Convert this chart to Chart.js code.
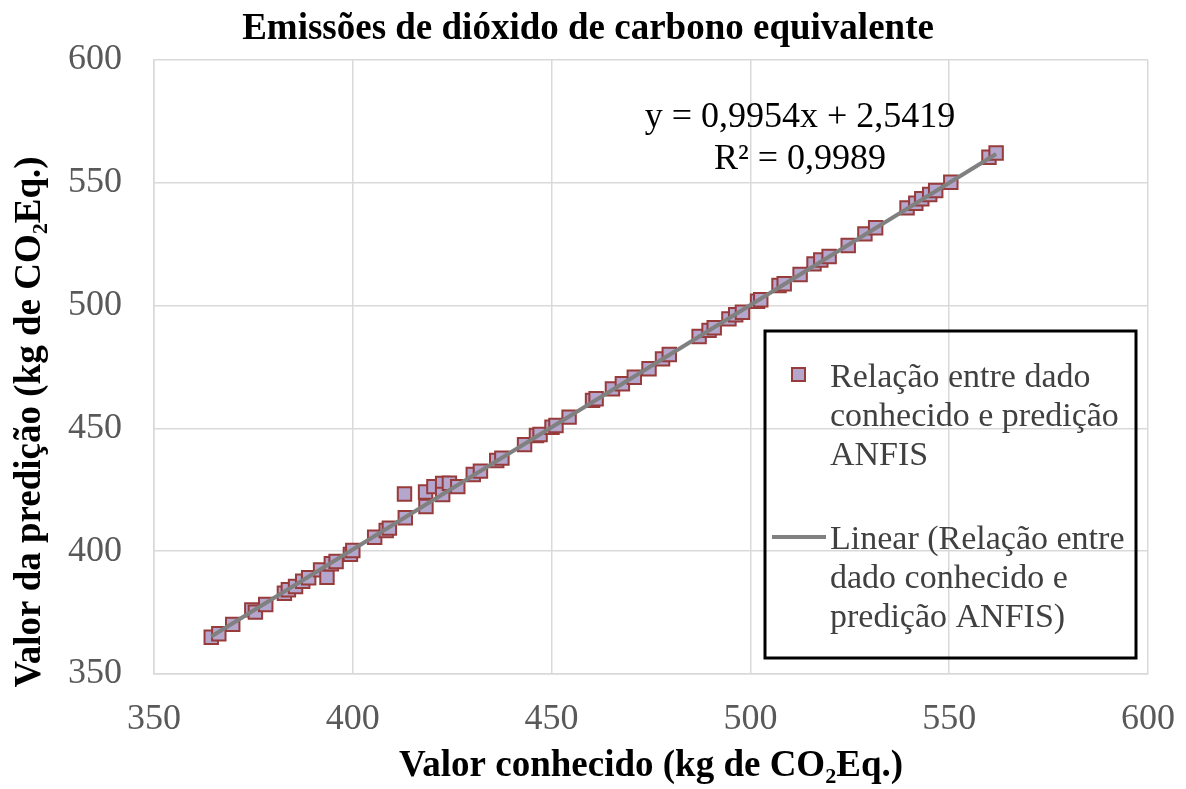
<!DOCTYPE html>
<html lang="pt">
<head>
<meta charset="utf-8">
<script src="https://cdn.jsdelivr.net/npm/chart.js@4.4.1/dist/chart.umd.min.js"></script>
<style>
  html, body { margin: 0; padding: 0; background: #fff; }
  #wrap { width: 1186px; height: 789px; }
</style>
</head>
<body>
<div id="wrap"><canvas id="chart" width="1186" height="789"></canvas></div>
<script>
// Valores (kg de CO2 Eq.)
const known = [
  364.4, 366.3, 369.8, 374.6, 375.5, 378.1, 382.8, 383.8, 385.6, 387.4,
  388.9, 391.9, 393.5, 394.6, 395.8, 399.4, 400.0, 405.5, 408.4, 409.2,
  413.2, 413.0, 418.3, 418.4, 420.4, 422.6, 422.6, 424.3, 426.4, 430.3,
  432.1, 436.2, 437.5, 443.2, 446.2, 447.1, 450.1, 451.1, 454.4, 460.3,
  461.2, 465.3, 467.8, 470.8, 474.5, 477.9, 479.6, 487.1, 489.6, 490.9,
  494.6, 496.3, 498.0, 501.8, 502.6, 507.2, 508.5, 512.5, 516.0, 517.7,
  519.8, 524.6, 528.8, 531.5, 539.4, 541.6, 543.1, 545.1, 546.6, 550.4,
  560.0, 561.8
];
const predicted = [
  365.0, 366.4, 370.2, 376.1, 375.2, 378.3, 382.9, 384.3, 385.6, 387.8,
  389.2, 392.4, 389.4, 394.9, 395.8, 398.7, 400.3, 405.7, 408.4, 409.4,
  413.6, 423.3, 424.1, 418.2, 426.3, 427.6, 423.1, 427.7, 426.3, 431.2,
  432.6, 436.9, 437.9, 443.4, 447.1, 447.5, 450.5, 451.2, 454.6, 461.4,
  462.1, 466.1, 468.2, 470.8, 474.3, 478.3, 480.1, 487.4, 489.9, 491.0,
  494.6, 496.3, 497.3, 501.8, 502.4, 508.2, 508.9, 512.7, 517.0, 518.6,
  520.0, 524.5, 529.2, 531.7, 539.8, 541.7, 543.5, 545.2, 546.9, 550.2,
  560.4, 562.1
];
const axisTicks = [350, 400, 450, 500, 550, 600];

// Linha de tendência mostrada no gráfico
const trendSlope = 0.9954;
const trendIntercept = 2.5419;
const rSquared = '0,9989';

const chartTitle = 'Emissões de dióxido de carbono equivalente';
const seriesLabel = ['Relação entre dado', 'conhecido e predição', 'ANFIS'];
const trendLabel = ['Linear (Relação entre', 'dado conhecido e', 'predição ANFIS)'];
const yTitle = 'Valor da predição (kg de CO₂Eq.)';

const points = known.map((x, i) => ({ x: x, y: predicted[i] }));
const xMin = Math.min(...known);
const xMax = Math.max(...known);
const trendPoints = [xMin, xMax].map(x => ({ x: x, y: trendSlope * x + trendIntercept }));

const serif = "'Liberation Serif', 'Times New Roman', serif";
const fillColor = '#b4a6cc';
const edgeColor = '#983b3b';
const gridColor = '#d9d9d9';

// Título, equação, título do eixo y e legenda em caixa
const overlay = {
  id: 'overlay',
  afterDraw(chart) {
    const ctx = chart.ctx;
    ctx.save();
    ctx.fillStyle = '#000';
    ctx.textAlign = 'center';

    ctx.font = 'bold 37px ' + serif;
    ctx.textBaseline = 'middle';
    ctx.fillText(chartTitle, 588, 29);

    // equação
    ctx.font = '36px ' + serif;
    ctx.textBaseline = 'alphabetic';
    const eq = 'y = ' + trendSlope.toFixed(4).replace('.', ',') + 'x + ' + trendIntercept.toFixed(4).replace('.', ',');
    ctx.fillText(eq, 800, 127);
    ctx.fillText('R² = ' + rSquared, 800, 169);

    // título do eixo y (o Excel o desloca para baixo)
    ctx.save();
    ctx.translate(30, 422);
    ctx.rotate(-Math.PI / 2);
    ctx.font = 'bold 37px ' + serif;
    ctx.textBaseline = 'middle';
    ctx.fillText(yTitle, 0, 0);
    ctx.restore();

    // legenda
    ctx.strokeStyle = '#000';
    ctx.lineWidth = 3;
    ctx.strokeRect(765, 331, 371, 327);

    ctx.fillStyle = fillColor;
    ctx.strokeStyle = edgeColor;
    ctx.lineWidth = 2;
    ctx.fillRect(792, 368, 13, 13);
    ctx.strokeRect(792, 368, 13, 13);

    ctx.strokeStyle = '#808080';
    ctx.lineWidth = 4;
    ctx.beginPath();
    ctx.moveTo(772, 537);
    ctx.lineTo(826, 537);
    ctx.stroke();

    ctx.fillStyle = '#404040';
    ctx.font = '34px ' + serif;
    ctx.textAlign = 'left';
    seriesLabel.forEach((t, i) => ctx.fillText(t, 830, 387 + i * 39));
    trendLabel.forEach((t, i) => ctx.fillText(t, 830, 549 + i * 39));
    ctx.restore();
  }
};

new Chart(document.getElementById('chart'), {
  type: 'scatter',
  data: {
    datasets: [{
      type: 'line',
      label: 'Linear',
      data: trendPoints,
      borderColor: '#808080',
      borderWidth: 4,
      pointRadius: 0,
      fill: false,
      order: 0
    }, {
      label: 'Relação entre dado conhecido e predição ANFIS',
      data: points,
      pointStyle: 'rect',
      pointRadius: 9.5,
      pointBackgroundColor: fillColor,
      pointBorderColor: edgeColor,
      pointBorderWidth: 2,
      order: 1
    }]
  },
  options: {
    responsive: false,
    animation: false,
    devicePixelRatio: 1,
    layout: { padding: { left: 0, right: 38, top: 60, bottom: 0 } },
    plugins: {
      legend: { display: false },
      tooltip: { enabled: false },
      title: { display: false }
    },
    scales: {
      x: {
        type: 'linear',
        min: axisTicks[0],
        max: axisTicks[axisTicks.length - 1],
        afterBuildTicks: scale => { scale.ticks = axisTicks.map(v => ({ value: v })); },
        afterFit: scale => {
          scale.height = 115;
          scale.paddingLeft = 0;
          scale.paddingRight = 0;
        },
        ticks: { color: '#595959', font: { family: serif, size: 36 }, padding: 24 },
        grid: { color: gridColor, lineWidth: 1.5, drawTicks: false },
        border: { color: gridColor, width: 1.5 },
        title: {
          display: true,
          text: 'Valor conhecido (kg de CO₂Eq.)',
          color: '#000',
          font: { family: serif, size: 37, weight: 'bold' },
          padding: { top: 0, bottom: 0 }
        }
      },
      y: {
        type: 'linear',
        min: axisTicks[0],
        max: axisTicks[axisTicks.length - 1],
        afterBuildTicks: scale => { scale.ticks = axisTicks.map(v => ({ value: v })); },
        afterFit: scale => {
          scale.width = 154;
          scale.paddingTop = 0;
          scale.paddingBottom = 0;
        },
        ticks: { color: '#595959', font: { family: serif, size: 36 }, padding: 32 },
        grid: { color: gridColor, lineWidth: 1.5, drawTicks: false },
        border: { color: gridColor, width: 1.5 },
        title: { display: false }
      }
    }
  },
  plugins: [overlay]
});
</script>
</body>
</html>
